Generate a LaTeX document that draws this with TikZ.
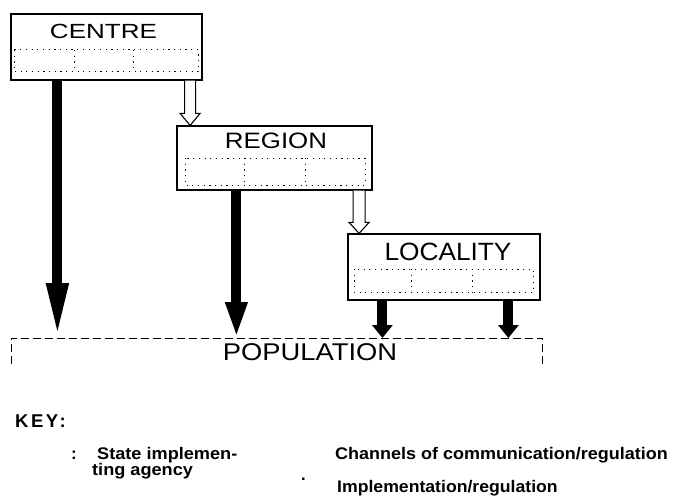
\documentclass[tikz,border=0pt]{standalone}
\usepackage{fontspec}
\setmainfont{Liberation Sans}
\usepackage{graphicx}
\usetikzlibrary{arrows.meta,calc}
\begin{document}
\begin{tikzpicture}[x=1pt,y=-1pt,
  box/.style={draw, line width=1.2pt, inner sep=0pt, rectangle},
  dotbox/.style={line width=1pt, dash pattern=on 1.2pt off 4.5pt},
  blk/.style={line width=10pt, -{Triangle[width=20pt,length=#1]}},
  hol/.style={draw, fill=white, line width=1.1pt, line join=miter},
  popline/.style={line width=1pt, dash pattern=on 8pt off 4pt},
  keytxt/.style={anchor=base west, inner sep=0pt, font=\fontsize{16.8}{18}\selectfont\bfseries},
  lbl/.style={anchor=base, inner sep=0pt}]
\useasboundingbox (0,0) rectangle (676,497);

% boxes
\node[box, minimum width=191pt, minimum height=66pt] (centre) at (106.5,47) {};
\node[box, minimum width=195pt, minimum height=64pt] (region) at (274.5,158) {};
\node[box, minimum width=192pt, minimum height=66pt] (locality) at (444,267) {};
\node[inner sep=0pt, minimum width=531pt, minimum height=26pt, anchor=north west] (pop) at (11,338) {};

% labels
\node[lbl] (tc) at (103.5,39) {\scalebox{1.27}[1]{\fontsize{20.5}{21}\selectfont CENTRE}};
\node[lbl] (tr) at (276,149) {\scalebox{1.16}[1]{\fontsize{22.3}{23}\selectfont REGION}};
\node[lbl] (tl) at (448,260) {\scalebox{1.05}[1]{\fontsize{25}{26}\selectfont LOCALITY}};
\node[lbl] (tp) at (310,360) {\scalebox{1.13}[1]{\fontsize{24.2}{25}\selectfont POPULATION}};

% dotted inner compartments
\draw[dotbox] (14,50) rectangle (198,72);
\draw[dotbox] (74,50) -- (74,72);
\draw[dotbox] (133,50) -- (133,72);
\draw[dotbox] (185,158) rectangle (365,185);
\draw[dotbox] (244,158) -- (244,185);
\draw[dotbox] (305,158) -- (305,185);
\draw[dotbox] (354,269) rectangle (533,292);
\draw[dotbox] (411,269) -- (411,292);
\draw[dotbox] (472,269) -- (472,292);

% population frame (open at the bottom)
\draw[popline] (pop.south west) -- (pop.north west) -- (pop.north east) -- (pop.south east);

% implementation arrows
\coordinate (a1) at ($(centre.south west)+(47,0)$);
\coordinate (a2) at ($(region.south west)+(60,0)$);
\coordinate (a3) at ($(locality.south west)+(35,0)$);
\coordinate (a4) at ($(locality.south west)+(161,0)$);
\draw[blk=55pt] (a1) -- (a1 |- pop.north);
\draw[blk=36pt] (a2) -- (a2 |- pop.north);
\draw[blk=13pt] (a3) -- (a3 |- pop.north);
\draw[blk=13pt] (a4) -- (a4 |- pop.north);

% channels of communication (hollow arrows)
\coordinate (h1s) at ($(centre.south east)+(-12.5,0)$);
\coordinate (h1e) at (h1s |- region.north);
\draw[hol] ($(h1s)+(-5.5,0)$) -- ($(h1e)+(-5.5,-12)$) -- ($(h1e)+(-10,-12)$) -- (h1e)
  -- ($(h1e)+(10,-12)$) -- ($(h1e)+(5.5,-12)$) -- ($(h1s)+(5.5,0)$);
\coordinate (h2s) at ($(region.south east)+(-13.5,0)$);
\coordinate (h2e) at (h2s |- locality.north);
\draw[hol] ($(h2s)+(-6,0)$) -- ($(h2e)+(-6,-11)$) -- ($(h2e)+(-10,-11)$) -- (h2e)
  -- ($(h2e)+(10,-11)$) -- ($(h2e)+(6,-11)$) -- ($(h2s)+(6,0)$);

% key
\node[keytxt, font=\fontsize{18.5}{20}\selectfont\bfseries] (key) at (15,427) {K\hspace{2.5pt}E\hspace{2.5pt}Y\hspace{1.5pt}:};
\node[keytxt] (colon) at (71,459) {:};
\node[keytxt] (k1a) at (97,459) {\scalebox{1.08}[1]{State implemen-}};
\node[keytxt] (k1b) at (92,475) {\scalebox{1.08}[1]{ting agency}};
\node[keytxt] (k2) at (335,459) {\scalebox{1.07}[1]{Channels of communication/regulation}};
\node[keytxt] (kdot) at (301,480) {.};
\node[keytxt] (k3) at (337,492) {\scalebox{1.05}[1]{Implementation/regulation}};
\end{tikzpicture}
\end{document}
